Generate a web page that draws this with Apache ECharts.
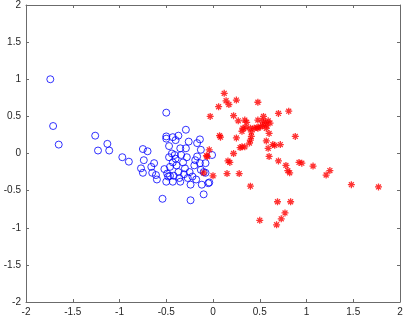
<!DOCTYPE html>
<html>
<head>
<meta charset="utf-8">
<script src="https://cdn.jsdelivr.net/npm/echarts@6/dist/echarts.min.js"></script>
<style>
html,body{margin:0;padding:0;background:#fff;}
#chart{width:407px;height:322px;}
</style>
</head>
<body>
<div id="chart"></div>
<script>
var xTicks = [-2, -1.5, -1, -0.5, 0, 0.5, 1, 1.5, 2];
var yTicks = [-2, -1.5, -1, -0.5, 0, 0.5, 1, 1.5, 2];

var blueX = [-1.74,-1.71,-1.65,-1.26,-1.23,-1.13,-1.11,-0.97,-0.90,-0.75,-0.70,-0.74,-0.77,-0.75,-0.63,-0.66,-0.65,-0.61,-0.60,-0.52,-0.49,-0.48,-0.54,-0.50,-0.50,-0.47,-0.43,-0.40,-0.37,-0.29,-0.44,-0.41,-0.40,-0.35,-0.34,-0.43,-0.39,-0.37,-0.43,-0.35,-0.29,-0.26,-0.25,-0.24,-0.24,-0.20,-0.19,-0.17,-0.17,-0.14,-0.14,-0.13,-0.12,-0.10,-0.13,-0.10,-0.08,-0.05,-0.01,-0.08,-0.04,-0.31,-0.30,-0.46,-0.50,-0.42,-0.36,-0.27,-0.22,-0.18,-0.32,-0.28,-0.47,-0.46,-0.50];
var blueY = [1.00,0.37,0.12,0.24,0.04,0.13,0.04,-0.05,-0.11,0.06,0.03,-0.09,-0.20,-0.26,-0.13,-0.18,-0.26,-0.29,-0.35,-0.21,-0.27,-0.31,-0.61,0.55,0.20,0.10,0.22,0.18,0.24,0.32,0.00,-0.02,-0.07,0.07,-0.02,-0.12,-0.16,-0.25,-0.38,-0.38,0.07,0.16,-0.25,-0.42,-0.63,-0.16,-0.09,-0.04,0.14,0.19,-0.13,-0.22,-0.42,-0.55,0.05,-0.25,-0.13,-0.40,-0.02,-0.26,-0.39,-0.28,-0.20,-0.30,-0.38,-0.30,-0.33,-0.33,-0.31,-0.35,-0.12,-0.05,-0.05,-0.18,0.23];

var redX = [0.12,0.14,0.17,0.25,0.06,0.48,-0.03,0.22,0.27,0.34,0.36,0.32,0.31,0.35,0.40,0.44,0.47,0.48,0.48,0.54,0.53,0.56,0.57,0.59,0.61,0.53,0.57,0.51,0.70,0.81,0.60,0.57,0.59,0.66,0.72,0.64,0.60,0.41,0.41,0.40,0.39,0.31,0.34,0.29,0.07,0.08,0.25,0.88,-0.04,-0.07,0.22,0.16,0.18,0.15,0.28,0.00,0.70,0.78,0.80,0.82,0.92,0.95,1.07,1.21,1.25,0.40,1.48,1.77,0.69,0.83,0.77,0.73,0.68,0.50,-0.10,-0.06];
var redY = [0.81,0.71,0.66,0.72,0.63,0.69,0.50,0.51,0.44,0.45,0.42,0.34,0.30,0.35,0.34,0.34,0.35,0.34,0.45,0.50,0.44,0.42,0.38,0.44,0.41,0.38,0.34,0.36,0.54,0.57,0.27,0.17,0.07,0.11,0.12,0.12,-0.04,0.29,0.23,0.18,0.14,0.09,0.09,0.08,0.24,0.22,0.21,0.23,0.05,-0.03,0.00,-0.10,-0.12,-0.27,-0.27,-0.30,-0.10,-0.16,-0.23,-0.26,-0.12,-0.13,-0.17,-0.29,-0.23,-0.44,-0.42,-0.45,-0.65,-0.65,-0.80,-0.88,-0.96,-0.90,-0.26,-0.04];

function zip(a, b) { return a.map(function (v, i) { return [v, b[i]]; }); }

var axisColor = '#6b6b6b';
var labelColor = '#262626';
var fontFamily = '"Liberation Sans", Arial, sans-serif';

function makeAxis(pos, ticks, showLabel) {
  return {
    type: 'value',
    position: pos,
    min: ticks[0],
    max: ticks[ticks.length - 1],
    interval: 0.5,
    splitLine: { show: false },
    axisLine: { show: true, onZero: false, lineStyle: { color: axisColor, width: 1 } },
    axisTick: { show: true, inside: true, length: 3, lineStyle: { color: axisColor } },
    axisLabel: {
      show: showLabel,
      color: labelColor,
      fontSize: 10,
      fontFamily: fontFamily,
      margin: 5,
      showMinLabel: true,
      showMaxLabel: true
    }
  };
}

var chart = echarts.init(document.getElementById('chart'), null, { renderer: 'canvas' });
chart.setOption({
  animation: false,
  backgroundColor: '#ffffff',
  grid: { left: 26, right: 7, top: 5, bottom: 20, containLabel: false },
  xAxis: [makeAxis('bottom', xTicks, true), makeAxis('top', xTicks, false)],
  yAxis: [makeAxis('left', yTicks, true), makeAxis('right', yTicks, false)],
  series: [
    {
      type: 'scatter',
      xAxisIndex: 0, yAxisIndex: 0,
      data: zip(blueX, blueY),
      symbol: 'circle',
      symbolSize: 7,
      itemStyle: { color: 'rgba(0,0,0,0)', borderColor: '#0000ff', borderWidth: 1 }
    },
    {
      type: 'scatter',
      xAxisIndex: 0, yAxisIndex: 0,
      data: zip(redX, redY),
      symbol: 'path://M0,-10L0,10M-10,0L10,0M-7,-7L7,7M-7,7L7,-7',
      symbolSize: 7,
      itemStyle: { color: '#ff0000', borderColor: '#ff0000', borderWidth: 1.3 }
    }
  ]
});
</script>
</body>
</html>
